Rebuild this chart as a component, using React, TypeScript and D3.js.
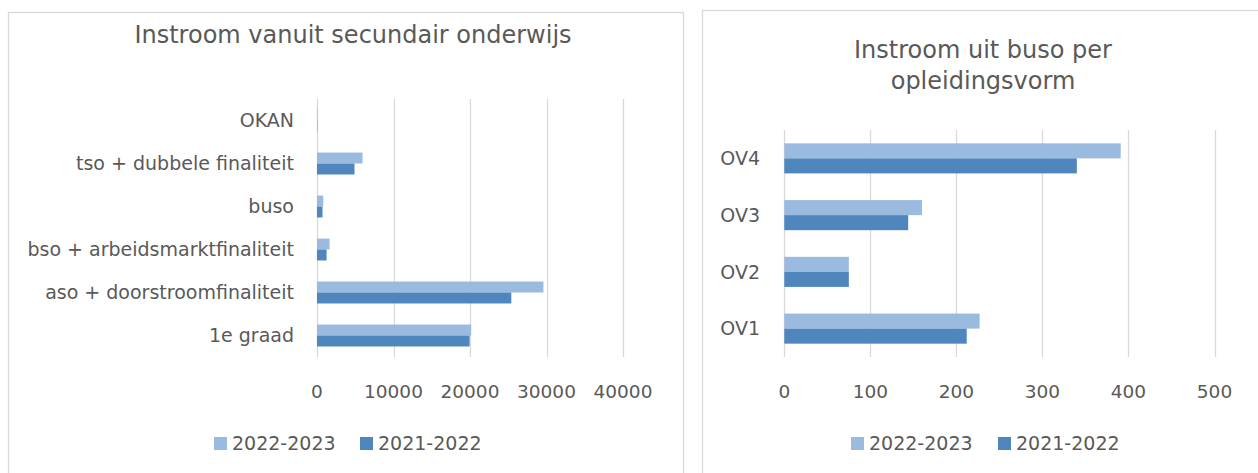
import React from 'react';
import * as d3 from 'd3';

// left chart: instroom vanuit secundair onderwijs (top to bottom)
const secCategories = [
  'OKAN',
  'tso + dubbele finaliteit',
  'buso',
  'bso + arbeidsmarktfinaliteit',
  'aso + doorstroomfinaliteit',
  '1e graad',
];
const sec2223 = [60, 5950, 820, 1650, 29600, 20150];
const sec2122 = [40, 4900, 720, 1250, 25400, 19950];
const secTicks = [0, 10000, 20000, 30000, 40000];

// right chart: instroom uit buso per opleidingsvorm (top to bottom)
const busoCategories = ['OV4', 'OV3', 'OV2', 'OV1'];
const buso2223 = [391, 160, 75, 227];
const buso2122 = [340, 144, 75, 212];
const busoTicks = [0, 100, 200, 300, 400, 500];

const seriesNames = ['2022-2023', '2021-2022'];
const seriesColors = ['#9bbae0', '#4f86bd'];

const FONT = '"DejaVu Sans", Verdana, sans-serif';
const TEXT = '#595959';
const GRID = '#d9d9d9';

type PanelProps = {
  box: { x: number; y: number; w: number; h: number };
  titleLines: string[];
  titleX: number;
  titleY: number;
  categories: string[];
  series: number[][];
  ticks: number[];
  plot: { x0: number; x1: number; y0: number; y1: number };
  labelX: number;
  pad: number;
  legendX: number[];
};

const Panel = ({ box, titleLines, titleX, titleY, categories, series, ticks, plot, labelX, pad, legendX }: PanelProps) => {
  const x = d3.scaleLinear()
    .domain([0, d3.max(ticks) as number])
    .range([plot.x0, plot.x1]);

  const y = d3.scaleBand()
    .domain(categories)
    .range([plot.y0, plot.y1])
    .paddingInner(pad)
    .paddingOuter(pad / 2);

  const ySub = d3.scaleBand()
    .domain(seriesNames)
    .range([0, y.bandwidth()]);

  return (
    <g>
      <rect x={box.x + 0.5} y={box.y + 0.5} width={box.w} height={box.h} fill="#fff" stroke={GRID} strokeWidth={1.3} />

      {/* title */}
      <text x={titleX} y={titleY} textAnchor="middle" fontFamily={FONT} fontSize={24} fill={TEXT}>
        {titleLines.map((l, i) => (
          <tspan key={i} x={titleX} dy={i === 0 ? 0 : 31}>{l}</tspan>
        ))}
      </text>

      {/* gridlines */}
      {ticks.map(t => (
        <line key={t} x1={Math.round(x(t)) + 0.5} x2={Math.round(x(t)) + 0.5} y1={plot.y0} y2={plot.y1} stroke={GRID} strokeWidth={1.3} />
      ))}

      {/* bars */}
      {categories.map((c, i) => (
        <g key={c}>
          {series.map((s, j) => (
            <rect
              key={j}
              x={x(0)}
              y={(y(c) as number) + (ySub(seriesNames[j]) as number)}
              width={x(s[i]) - x(0)}
              height={ySub.bandwidth()}
              fill={seriesColors[j]}
            />
          ))}
        </g>
      ))}

      {/* category labels */}
      {categories.map(c => (
        <text key={c} x={labelX} y={(y(c) as number) + y.bandwidth() / 2} dy="0.36em" textAnchor="end" fontFamily={FONT} fontSize={19} fill={TEXT}>
          {c}
        </text>
      ))}

      {/* value ticks */}
      {ticks.map(t => (
        <text key={t} x={x(t)} y={plot.y1 + 41} textAnchor="middle" fontFamily={FONT} fontSize={18.5} fill={TEXT}>
          {t}
        </text>
      ))}

      {/* legend */}
      {seriesNames.map((n, j) => (
        <g key={n} transform={`translate(${legendX[j]},437)`}>
          <rect x={0} y={0} width={13} height={13} fill={seriesColors[j]} />
          <text x={18} y={6.5} dy="0.36em" fontFamily={FONT} fontSize={19} fill={TEXT}>{n}</text>
        </g>
      ))}
    </g>
  );
};

export default function App() {
  return (
    <svg width={1258} height={473} style={{ position: 'absolute', left: 0, top: 0, background: '#fff' }}>
      <Panel
        box={{ x: 8, y: 12, w: 675, h: 480 }}
        titleLines={['Instroom vanuit secundair onderwijs']}
        titleX={353}
        titleY={43}
        categories={secCategories}
        series={[sec2223, sec2122]}
        ticks={secTicks}
        plot={{ x0: 317, x1: 623, y0: 99, y1: 357 }}
        labelX={294}
        pad={0.49}
        legendX={[214, 360]}
      />
      <Panel
        box={{ x: 702, y: 10, w: 600, h: 480 }}
        titleLines={['Instroom uit buso per', 'opleidingsvorm']}
        titleX={983}
        titleY={58}
        categories={busoCategories}
        series={[buso2223, buso2122]}
        ticks={busoTicks}
        plot={{ x0: 784.3, x1: 1214.5, y0: 130, y1: 357 }}
        labelX={760}
        pad={0.47}
        legendX={[851, 998]}
      />
    </svg>
  );
}
